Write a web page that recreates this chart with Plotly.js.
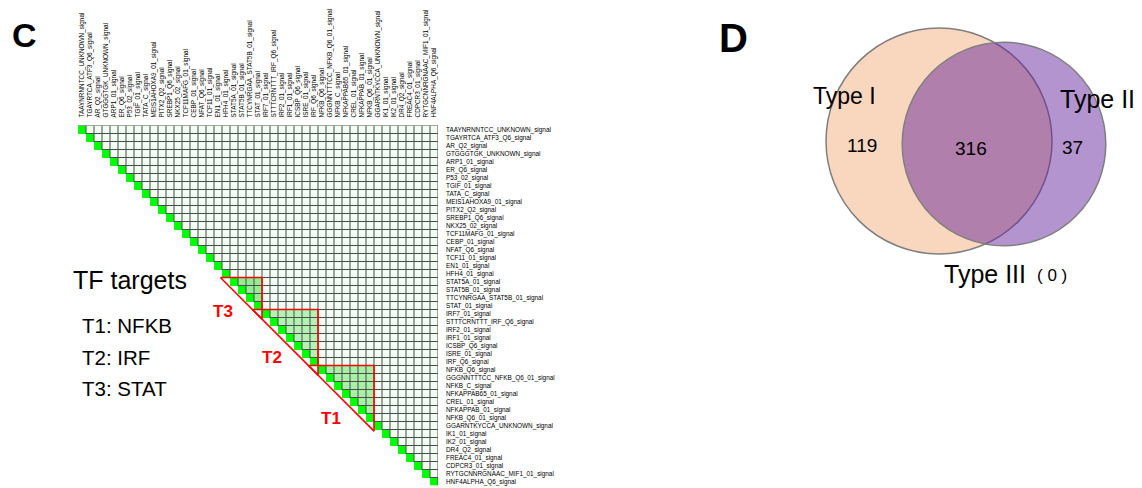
<!DOCTYPE html>
<html><head><meta charset="utf-8">
<script src="https://cdn.plot.ly/plotly-3.0.1.min.js"></script>
<style>html,body{margin:0;padding:0;background:#fff}</style>
</head><body><div id="chart" style="width:1142px;height:488px"></div>
<script>
// ---------- data ----------
const tfLabels = [
 'TAAYNRNNTCC_UNKNOWN_signal','TGAYRTCA_ATF3_Q6_signal','AR_Q2_signal','GTGGGTGK_UNKNOWN_signal',
 'ARP1_01_signal','ER_Q6_signal','P53_02_signal','TGIF_01_signal','TATA_C_signal',
 'MEIS1AHOXA9_01_signal','PITX2_Q2_signal','SREBP1_Q6_signal','NKX25_02_signal','TCF11MAFG_01_signal',
 'CEBP_01_signal','NFAT_Q6_signal','TCF11_01_signal','EN1_01_signal','HFH4_01_signal',
 'STAT5A_01_signal','STAT5B_01_signal','TTCYNRGAA_STAT5B_01_signal','STAT_01_signal',
 'IRF7_01_signal','STTTCRNTTT_IRF_Q6_signal','IRF2_01_signal','IRF1_01_signal','ICSBP_Q6_signal',
 'ISRE_01_signal','IRF_Q6_signal',
 'NFKB_Q6_signal','GGGNNTTTCC_NFKB_Q6_01_signal','NFKB_C_signal','NFKAPPAB65_01_signal','CREL_01_signal',
 'NFKAPPAB_01_signal','NFKB_Q6_01_signal',
 'GGARNTKYCCA_UNKNOWN_signal','IK1_01_signal','IK2_01_signal','DR4_Q2_signal','FREAC4_01_signal',
 'CDPCR3_01_signal','RYTGCNNRGNAAC_MIF1_01_signal','HNF4ALPHA_Q6_signal'
];
const clusterNames = ['T1','T2','T3'];
const clusterTF = ['NFKB','IRF','STAT'];
const clusterFirst = ['NFKB_Q6_signal','IRF7_01_signal','STAT5A_01_signal'];
const clusterLast  = ['NFKB_Q6_01_signal','IRF_Q6_signal','STAT_01_signal'];
const clusterStrength = [0.5, 0.46, 0.58];
const backgroundStrength = 0.08;
const diagonalStrength = 1;

const vennSets = ['Type I','Type II','Type III'];
const vennOnly = [119, 37, 0];
const vennShared = 316;

// ---------- helpers ----------
const W = 1142, H = 488;
const px = x => x / W, py = y => 1 - y / H;
const n = tfLabels.length;
const idx = tfLabels.map((_, i) => i);
const cStart = clusterFirst.map(l => tfLabels.indexOf(l));
const cEnd = clusterLast.map(l => tfLabels.indexOf(l));

// matrix
const z = [];
for (let r = 0; r < n; r++) {
  const row = [];
  for (let c = 0; c < n; c++) {
    if (c < r) { row.push(null); continue; }
    if (c === r) { row.push(diagonalStrength); continue; }
    let v = backgroundStrength;
    for (let k = 0; k < cStart.length; k++) {
      if (r >= cStart[k] && c <= cEnd[k]) v = clusterStrength[k];
    }
    row.push(v);
  }
  z.push(row);
}

// grid lines for upper triangle
const gx = [], gy = [];
gx.push(-0.5, n - 0.5, null); gy.push(-0.5, -0.5, null);
for (let r = 0; r < n - 1; r++) { gx.push(r + 0.5, n - 0.5, null); gy.push(r + 0.5, r + 0.5, null); }
for (let c = 0; c < n; c++) { gx.push(c + 0.5, c + 0.5, null); gy.push(-0.5, c + 0.5, null); }

// cluster triangles
const off = 1.2;
const traces = [
  {type:'heatmap', z:z, x:idx, y:idx, zmin:0, zmax:1, showscale:false, hoverinfo:'skip',
   colorscale:[[0,'#ffffff'],[0.08,'#f0fdf0'],[0.46,'#b2f3b2'],[0.5,'#a6f1a6'],[0.58,'#92ed92'],[1,'#00ff00']]},
  {type:'scatter', mode:'lines', x:gx, y:gy, line:{color:'#4d4d4d', width:1}, hoverinfo:'skip'}
];
for (let k = 0; k < cStart.length; k++) {
  const a = cStart[k], b = cEnd[k];
  traces.push({type:'scatter', mode:'lines',
    x:[a - 0.5 - off, b + 0.5, b + 0.5, a - 0.5 - off],
    y:[a - 0.5, a - 0.5, b + 0.5 + off, a - 0.5],
    line:{color:'#ff0000', width:1.6}, hoverinfo:'skip', cliponaxis:false});
}

const FONT = 'Liberation Sans, Arial, Helvetica, sans-serif';
const ann = [];
const addT = (text, x, y, size, opts={}) => ann.push(Object.assign({
  text, x: px(x), y: py(y), xref:'paper', yref:'paper', showarrow:false,
  xanchor:'center', yanchor:'middle', font:{family:FONT, size, color:'#000'}}, opts));

addT('<b>C</b>', 24.5, 34.5, 34);
addT('<b>D</b>', 733, 37.5, 40);
addT('TF targets', 71, 280, 25, {xanchor:'left'});
const legendY = [325, 357, 388.5];
clusterNames.forEach((nm, k) => addT(nm + ': ' + clusterTF[k], 80, legendY[k], 20.5, {xanchor:'left'}));
// red labels near triangles
const tLabelPos = [[331, 418], [272, 357], [223, 311]];
clusterNames.forEach((nm, k) => addT('<b>' + nm + '</b>', tLabelPos[k][0], tLabelPos[k][1], 17, {font:{family:FONT, size:17, color:'#ff0000'}}));

// Venn
const k = 113 / Math.sqrt(vennOnly[0] + vennShared);
const r1 = k * Math.sqrt(vennOnly[0] + vennShared);
const r2 = k * Math.sqrt(vennOnly[1] + vennShared);
const c1 = [939, 141], c2 = [1004, 144];
const circ = (c, r, fill) => ({type:'circle', xref:'paper', yref:'paper',
  x0: px(c[0] - r), x1: px(c[0] + r), y0: py(c[1] + r), y1: py(c[1] - r),
  fillcolor: fill, line:{color:'#7f7f7f', width:1.5}});
const shapes = [circ(c1, r1, '#f9d7bf'), circ(c2, r2, 'rgba(99,32,153,0.48)')];

addT(vennSets[0], 844, 95.5, 23);
addT(vennSets[1], 1058, 98.7, 25, {xanchor:'left'});
addT(String(vennOnly[0]), 861.5, 145, 19);
addT(String(vennShared), 970.5, 148.4, 19);
addT(String(vennOnly[1]), 1072.5, 147.7, 19);
addT(vennSets[2], 942, 273.7, 25, {xanchor:'left'});
addT('( ' + vennOnly[2] + ' )', 1035, 275.5, 17, {xanchor:'left'});

const tickFont = {family:FONT, size:6.4, color:'#000'};
const layout = {
  width: W, height: H, margin:{l:0, r:0, t:0, b:0},
  paper_bgcolor:'#fff', plot_bgcolor:'#fff', showlegend:false,
  xaxis:{domain:[px(78), px(438)], range:[-0.5, n - 0.5], side:'top',
    tickmode:'array', tickvals:idx, ticktext:tfLabels, tickangle:-90, tickfont:tickFont,
    showgrid:false, zeroline:false, showline:false, ticks:'', ticklabelstandoff:7,
    automargin:false, fixedrange:true},
  yaxis:{domain:[py(485.5), py(125.5)], range:[n - 0.5, -0.5], side:'right',
    tickmode:'array', tickvals:idx, ticktext:tfLabels, tickfont:tickFont,
    showgrid:false, zeroline:false, showline:false, ticks:'', ticklabelstandoff:7,
    automargin:false, fixedrange:true},
  shapes, annotations: ann
};
Plotly.newPlot('chart', traces, layout, {displayModeBar:false, staticPlot:true});
</script></body></html>
